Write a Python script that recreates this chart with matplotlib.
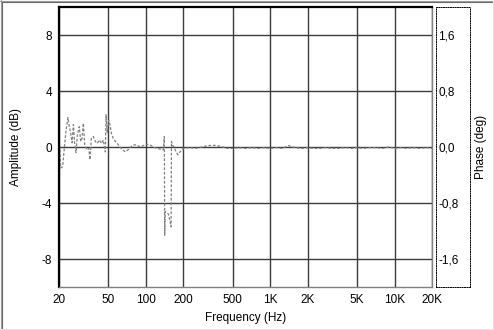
import matplotlib
matplotlib.use('Agg')
import matplotlib.pyplot as plt
from matplotlib.lines import Line2D

plt.rcParams['font.family'] = ['Liberation Sans', 'DejaVu Sans']
plt.rcParams['font.size'] = 8
plt.rcParams['axes.unicode_minus'] = False

# amplitude trace (Hz, dB)
freq = [20.4, 20.6, 21.4, 21.9, 22.8, 23.6, 24.2, 24.8, 25.5, 26.1,
        26.7, 27.4, 28.1, 29.1, 29.9, 30.6, 31.4, 32.2, 33.4, 34.7,
        35.5, 36.4, 37.8, 39.2, 40.6, 42.2, 43.8, 45.4, 47.2, 47.8,
        48.9, 50.2, 51.4, 52.7, 54.7, 56.8, 58.9, 61.9, 65.1, 68.3,
        71.8, 75.5, 79.2, 84.3, 89.7, 95.3, 101.5, 108, 114.7, 122.2,
        129.9, 138.1, 140.7, 141.7, 143, 152, 159.5, 160.5, 164, 168.3,
        174.6, 181.3, 188,
        200, 225, 250, 280, 315, 355, 400, 450, 500, 560,
        630, 710, 800, 900, 1000, 1120, 1250, 1400, 1600, 1800,
        2000, 2240, 2500, 2800, 3150, 3550, 4000, 4500, 5000, 5600,
        6300, 7100, 8000, 9000, 10000, 11200, 12500, 14000, 16000, 18000,
        20000]
amp = [-0.2, -1.5, -1.4, -0.4, 1.2, 2.1, 1.45, 1.0, 0.3, 1.6,
       0.3, -0.4, 0.85, 1.45, 0.4, 0.6, 1.7, 0.15, -0.2, -0.1,
       -0.9, 0.6, 0.75, 0.4, 0.25, 0.5, 0.25, 0.5, -0.35, 2.3,
       1.0, 1.9, 1.6, 1.0, 0.6, 0.4, 0.25, 0.0, -0.2, -0.35,
       -0.2, 0.0, 0.15, 0.15, 0.0, 0.1, 0.2, 0.15, 0.0, -0.1,
       -0.15, -0.2, 0.75, -6.3, -4.6, -4.8, -5.7, 0.4, 0.1, 0.0,
       -0.35, -0.55, -0.35,
       -0.1, -0.05, -0.1, 0.0, 0.1, 0.12, 0.05, -0.1, -0.1, -0.05,
       -0.1, -0.05, -0.1, -0.05, -0.1, -0.05, -0.1, 0.1, -0.05, -0.1,
       -0.05, -0.1, -0.1, -0.05, -0.1, -0.1, -0.05, -0.1, -0.05, -0.1,
       -0.05, -0.05, -0.1, 0.0, -0.1, -0.05, -0.1, -0.05, -0.1, -0.05,
       -0.1]

xticks = [20, 50, 100, 200, 500, 1000, 2000, 5000, 10000, 20000]
xlabels = ['20', '50', '100', '200', '500', '1K', '2K', '5K', '10K', '20K']
yticks = [-8, -4, 0, 4, 8]
phase_ticks = [-1.6, -0.8, 0.0, 0.8, 1.6]
phase_labels = ['-1,6', '-0,8', '0,0', '0,8', '1,6']

W, H = 494, 330
fig = plt.figure(figsize=(W / 100, H / 100), dpi=100)
fig.patch.set_facecolor('white')

# window frame
fig.add_artist(Line2D([0.5 / W, 0.5 / W], [0, 1], color='#a0a0a0', lw=0.8))
fig.add_artist(Line2D([1.5 / W, 1.5 / W], [1.5 / H, 1 - 1.5 / H], color='#696969', lw=0.8))
fig.add_artist(Line2D([0, 1], [1 - 0.5 / H, 1 - 0.5 / H], color='#a0a0a0', lw=0.8))
fig.add_artist(Line2D([1.5 / W, 1], [1 - 1.5 / H, 1 - 1.5 / H], color='#696969', lw=0.8))
fig.add_artist(Line2D([1 - 1.5 / W, 1 - 1.5 / W], [0, 1], color='#e3e3e3', lw=0.8))
fig.add_artist(Line2D([0, 1], [1.5 / H, 1.5 / H], color='#e3e3e3', lw=0.8))

ax = fig.add_axes([59 / W, (H - 287) / H, (432 - 59) / W, (287 - 7) / H])
ax.plot(freq, amp, color='#808080', lw=0.9, dashes=(2.2, 1.4))
ax.set_xscale('log')
ax.set_xlim(20, 20000)
ax.set_ylim(-10, 10)
ax.set_xticks(xticks)
ax.set_xticklabels(xlabels)
ax.xaxis.set_minor_locator(matplotlib.ticker.NullLocator())
ax.set_yticks(yticks)
ax.grid(True, color='#3c3c3c', lw=1.0)
ax.set_axisbelow(True)
ax.tick_params(length=0, pad=5, labelsize=8.5)
for side in ['left', 'top']:
    ax.spines[side].set_color('black')
    ax.spines[side].set_linewidth(1.6)
for side in ['right', 'bottom']:
    ax.spines[side].set_color('#808080')
    ax.spines[side].set_linewidth(1.0)
ax.set_xlabel('Frequency (Hz)', fontsize=8.5, labelpad=4)
ax.set_ylabel('Amplitude (dB)', fontsize=8.5, labelpad=14)

# phase axis box
ax2 = fig.add_axes([436 / W, (H - 287) / H, (470 - 436) / W, (287 - 7) / H])
ax2.set_facecolor('none')
ax2.set_xticks([])
ax2.set_ylim(-2, 2)
ax2.set_yticks(phase_ticks)
ax2.set_yticklabels(phase_labels)
ax2.tick_params(axis='y', length=0, pad=-1.5, labelsize=8.5)
for lbl in ax2.get_yticklabels():
    lbl.set_ha('left')
for side in ax2.spines.values():
    side.set_linestyle((0, (1, 1.4)))
    side.set_linewidth(0.7)
    side.set_color('black')
fig.text(481 / W, 1 - 147 / H, 'Phase (deg)', rotation=90, ha='center', va='center', fontsize=8.5)

fig.savefig('out.png', dpi=100)
